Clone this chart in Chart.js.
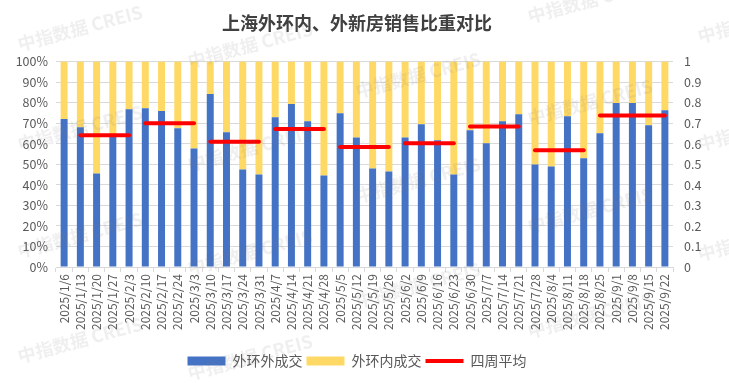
<!DOCTYPE html>
<html>
<head>
<meta charset="utf-8">
<script src="https://cdn.jsdelivr.net/npm/chart.js@4/dist/chart.umd.min.js"></script>
<style>
html,body{margin:0;padding:0;background:#fff;}
#wrap{width:729px;height:383px;}
</style>
</head>
<body>
<div id="wrap"><canvas id="c" width="729" height="383"></canvas></div>
<script>
const categories = ["2025/1/6","2025/1/13","2025/1/20","2025/1/27","2025/2/3","2025/2/10","2025/2/17","2025/2/24","2025/3/3","2025/3/10","2025/3/17","2025/3/24","2025/3/31","2025/4/7","2025/4/14","2025/4/21","2025/4/28","2025/5/5","2025/5/12","2025/5/19","2025/5/26","2025/6/2","2025/6/9","2025/6/16","2025/6/23","2025/6/30","2025/7/7","2025/7/14","2025/7/21","2025/7/28","2025/8/4","2025/8/11","2025/8/18","2025/8/25","2025/9/1","2025/9/8","2025/9/15","2025/9/22"];
const outerShare = [72.0,68.0,45.5,64.5,76.8,77.3,75.9,67.5,57.7,84.2,65.6,47.5,45.0,72.9,79.3,71.0,44.5,74.9,63.1,48.0,46.5,63.1,69.5,61.7,45.0,66.6,60.2,71.0,74.4,49.9,48.9,73.4,52.9,65.1,79.8,79.8,69.0,76.3];
const innerShare = [28.0,32.0,54.5,35.5,23.2,22.7,24.1,32.5,42.3,15.8,34.4,52.5,55.0,27.1,20.7,29.0,55.5,25.1,36.9,52.0,53.5,36.9,30.5,38.3,55.0,33.4,39.8,29.0,25.6,50.1,51.1,26.6,47.1,34.9,20.2,20.2,31.0,23.7];
const fourWeekAvg = [null,0.641,0.641,0.641,0.641,0.700,0.700,0.700,0.700,0.610,0.610,0.610,0.610,0.672,0.672,0.672,0.672,0.584,0.584,0.584,0.584,0.602,0.602,0.602,0.602,0.684,0.684,0.684,0.684,0.568,0.568,0.568,0.568,0.737,0.737,0.737,0.737,0.737];
const leftTicks = [0,10,20,30,40,50,60,70,80,90,100];
const rightTicks = [0,0.1,0.2,0.3,0.4,0.5,0.6,0.7,0.8,0.9,1];
const seriesNames = ["外环外成交","外环内成交","四周平均"];
const titleText = "上海外环内、外新房销售比重对比";
const watermarkText = "中指数据 CREIS";

const FONT = "'Noto Sans CJK SC','Noto Sans',sans-serif";
const gray = '#595959';

const watermarkPlugin = {
  id: 'wm',
  afterDraw(chart) {
    const ctx = chart.ctx;
    const spots = [[80,28],[80,128],[80,235],[80,340],[250,45],[250,148],[250,252],[250,357],[418,75],[418,180],[418,285],[590,0],[590,102],[590,210],[590,315],[760,20],[760,128],[760,238]];
    ctx.save();
    ctx.font = "bold 18px " + FONT;
    ctx.fillStyle = 'rgba(120,120,120,0.12)';
    ctx.textAlign = 'center';
    ctx.textBaseline = 'middle';
    spots.forEach(([x,y]) => {
      ctx.save();
      ctx.translate(x,y);
      ctx.rotate(-15*Math.PI/180);
      ctx.fillText(watermarkText,0,0);
      ctx.restore();
    });
    ctx.restore();
  }
};

new Chart(document.getElementById('c'), {
  data: {
    labels: categories,
    datasets: [
      {type:'bar', label: seriesNames[0], data: outerShare, backgroundColor:'#4472C4', borderWidth:0, yAxisID:'y', order:1, pointStyle:'rect', barPercentage:0.43, categoryPercentage:1.0},
      {type:'bar', label: seriesNames[1], data: innerShare, backgroundColor:'#FFD966', borderWidth:0, yAxisID:'y', order:1, pointStyle:'rect', barPercentage:0.43, categoryPercentage:1.0},
      {type:'line', label: seriesNames[2], data: fourWeekAvg, borderColor:'#FF0000', backgroundColor:'#FF0000', borderWidth:4, borderCapStyle:'round', pointRadius:0, pointHoverRadius:0, pointStyle:'line', yAxisID:'y1', order:0, spanGaps:false,
        segment: { borderColor: c => (c.p0.parsed.y === c.p1.parsed.y ? '#FF0000' : 'rgba(0,0,0,0)') } }
    ]
  },
  options: {
    responsive:false,
    animation:false,
    events:[],
    layout:{padding:{left:0,right:15,top:0,bottom:5}},
    plugins:{
      title:{display:true, text:titleText, color:'#404040', font:{family:FONT,size:18,weight:'bold'}, padding:{top:12,bottom:28}},
      legend:{display:true, position:'bottom',
        labels:{usePointStyle:true, pointStyleWidth:38, boxHeight:9, color:gray, font:{family:FONT,size:14}, padding:4,
          sort:(a,b)=>a.datasetIndex-b.datasetIndex}},
      tooltip:{enabled:false}
    },
    scales:{
      x:{stacked:true, offset:true,
        grid:{display:true, drawOnChartArea:false, drawTicks:true, tickLength:5, color:'#d9d9d9', offset:true},
        border:{display:true, color:'#d9d9d9'},
        ticks:{color:gray, font:{family:FONT,size:12}, maxRotation:90, minRotation:90, autoSkip:false, padding:2},
        afterFit: s => { s.height = 83; }
      },
      y:{stacked:true, position:'left', min:0, max:100,
        afterBuildTicks: s => { s.ticks = leftTicks.map(v=>({value:v})); },
        grid:{color:'#d9d9d9', drawTicks:false},
        border:{display:false},
        ticks:{color:gray, font:{family:FONT,size:12.5}, padding:8, callback:v=>v+'%'},
        afterFit: s => { s.width = 56; }
      },
      y1:{position:'right', min:0, max:1,
        afterBuildTicks: s => { s.ticks = rightTicks.map(v=>({value:v})); },
        grid:{display:false, drawTicks:false},
        border:{display:false},
        ticks:{color:gray, font:{family:FONT,size:12.5}, padding:11, callback:v=>String(Math.round(v*10)/10)},
        afterFit: s => { s.width = 41; }
      }
    }
  },
  plugins:[watermarkPlugin]
});
</script>
</body>
</html>
